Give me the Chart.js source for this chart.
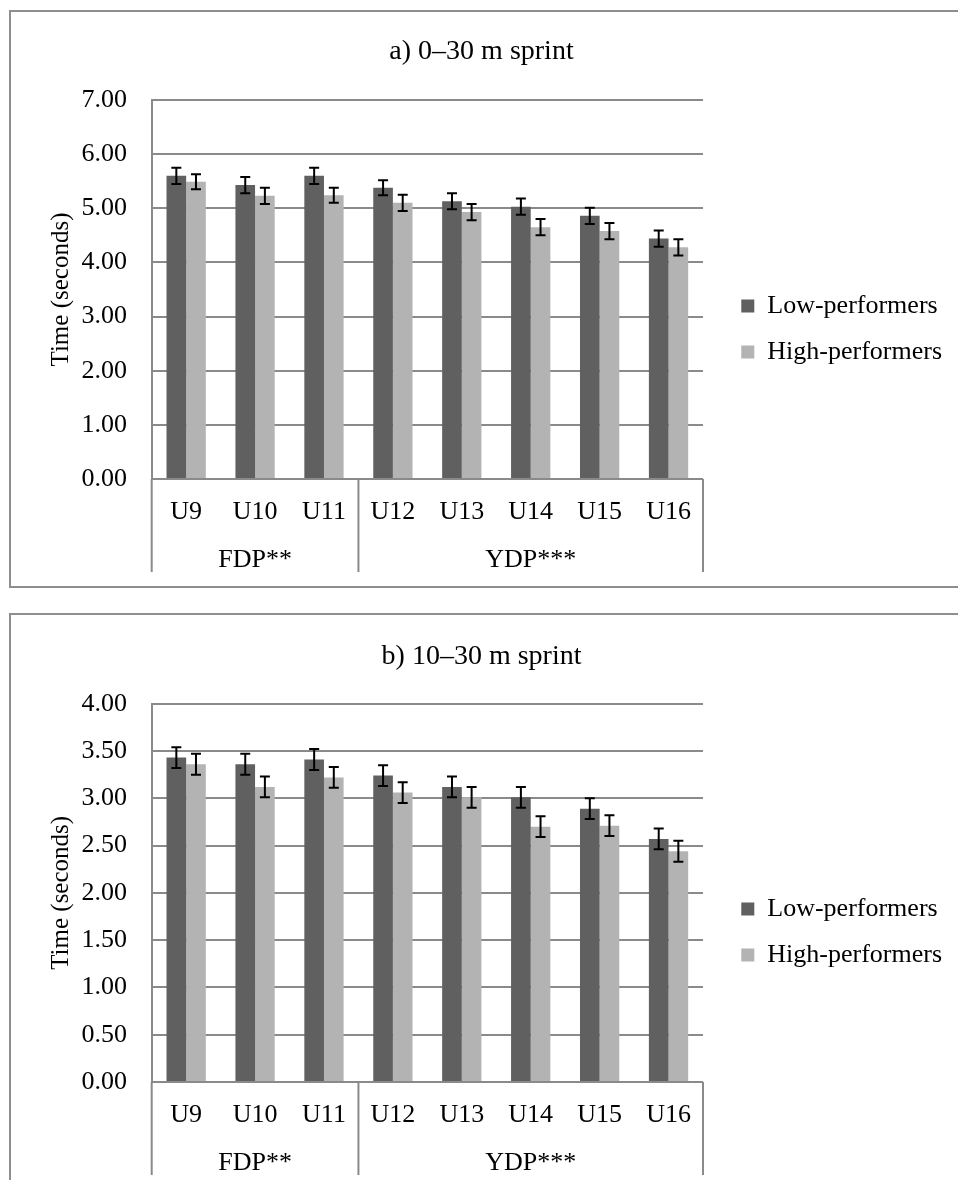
<!DOCTYPE html>
<html>
<head>
<meta charset="utf-8">
<script src="https://cdn.jsdelivr.net/npm/chart.js@4.4.1/dist/chart.umd.min.js"></script>
<style>
html,body{margin:0;padding:0;background:#fff;overflow:hidden;width:958px;height:1180px}
.box{position:absolute;left:9px;width:1000px;border:2px solid #8e8e8e;background:#fff}
.wrap{position:relative;width:941px;height:574px}
</style>
</head>
<body>
<div class="box" style="top:10px"><div class="wrap"><canvas id="chart-a"></canvas></div></div>
<div class="box" style="top:613px"><div class="wrap"><canvas id="chart-b"></canvas></div></div>
<script>
// donnees -----------------------------------------------------------------
const categories = ['U9','U10','U11','U12','U13','U14','U15','U16'];
const groupLabels = ['', 'FDP**', '', '', '', 'YDP***', '', ''];
const groupBreaks = [3]; // YDP commence a U12
const seriesNames = ['Low-performers', 'High-performers'];

const sprint030Low      = [5.60, 5.43, 5.60, 5.38, 5.13, 5.03, 4.86, 4.44];
const sprint030LowErr   = [0.15, 0.15, 0.15, 0.14, 0.15, 0.15, 0.15, 0.15];
const sprint030High     = [5.49, 5.23, 5.24, 5.10, 4.93, 4.65, 4.58, 4.28];
const sprint030HighErr  = [0.14, 0.15, 0.14, 0.15, 0.15, 0.15, 0.15, 0.15];

const sprint1030Low     = [3.43, 3.36, 3.41, 3.24, 3.12, 3.01, 2.89, 2.57];
const sprint1030LowErr  = [0.11, 0.11, 0.11, 0.11, 0.11, 0.11, 0.11, 0.11];
const sprint1030High    = [3.36, 3.12, 3.22, 3.06, 3.01, 2.70, 2.71, 2.44];
const sprint1030HighErr = [0.11, 0.11, 0.11, 0.11, 0.11, 0.11, 0.11, 0.11];

const FONT = "'Liberation Serif', 'Times New Roman', serif";
const GRID = '#8a8a8a';
const DARK = '#606060', LIGHT = '#b3b3b3';

Chart.defaults.font.family = FONT;
Chart.defaults.color = '#000';

// barres d'erreur ----------------------------------------------------------
const errorBars = {
  id: 'errorBars',
  afterDatasetsDraw(chart){
    const ctx = chart.ctx, y = chart.scales.y;
    ctx.save();
    ctx.strokeStyle = '#000'; ctx.lineWidth = 2;
    chart.data.datasets.forEach((ds, di) => {
      chart.getDatasetMeta(di).data.forEach((bar, i) => {
        const top = y.getPixelForValue(ds.data[i] + ds.err[i]);
        const bot = y.getPixelForValue(ds.data[i] - ds.err[i]);
        ctx.beginPath();
        ctx.moveTo(bar.x, top); ctx.lineTo(bar.x, bot);
        ctx.moveTo(bar.x - 5, top); ctx.lineTo(bar.x + 5, top);
        ctx.moveTo(bar.x - 5, bot); ctx.lineTo(bar.x + 5, bot);
        ctx.stroke();
      });
    });
    ctx.restore();
  }
};

// traits verticaux entre groupes FDP / YDP ---------------------------------
const groupLines = {
  id: 'groupLines',
  afterDraw(chart){
    const x = chart.scales.x, area = chart.chartArea, ctx = chart.ctx;
    const edges = [x.left, ...groupBreaks.map(i => (x.getPixelForValue(i - 1) + x.getPixelForValue(i)) / 2), x.right];
    ctx.save();
    ctx.strokeStyle = GRID; ctx.lineWidth = 2;
    edges.forEach(px => {
      ctx.beginPath();
      ctx.moveTo(px, area.bottom); ctx.lineTo(px, area.bottom + 93);
      ctx.stroke();
    });
    ctx.restore();
  }
};

function makeChart(id, title, low, lowErr, high, highErr, yMax, yStep, titlePad){
  return new Chart(document.getElementById(id), {
    type: 'bar',
    data: {
      labels: categories,
      datasets: [
        { label: seriesNames[0], data: low, err: lowErr, backgroundColor: DARK, borderWidth: 0 },
        { label: seriesNames[1], data: high, err: highErr, backgroundColor: LIGHT, borderWidth: 0 }
      ]
    },
    options: {
      responsive: true, maintainAspectRatio: false, animation: false,
      datasets: { bar: { categoryPercentage: 0.57, barPercentage: 1 } },
      layout: { padding: 0 },
      plugins: {
        tooltip: { enabled: false },
        title: { display: true, text: title, color: '#000',
          font: { size: 28, weight: 'normal' }, padding: titlePad },
        legend: {
          position: 'right', align: 'start', maxWidth: 260,
          title: { display: true, text: '', font: { size: 10 }, padding: { top: 249, bottom: 0 } },
          labels: { boxWidth: 13, boxHeight: 13, padding: 20, color: '#000', font: { size: 26 } }
        }
      },
      scales: {
        x: {
          offset: true, weight: 0,
          grid: { display: false }, border: { display: false },
          ticks: { autoSkip: false, maxRotation: 0, padding: 10, color: '#000', font: { size: 26 } },
          afterFit: s => { s.height = 48; }
        },
        x2: {
          type: 'category', labels: groupLabels, position: 'bottom', offset: true, weight: 1,
          grid: { display: false }, border: { display: false },
          ticks: { autoSkip: false, maxRotation: 0, padding: 9.6, color: '#000', font: { size: 26 } },
          afterFit: s => { s.height = 59; }
        },
        y: {
          min: 0, max: yMax,
          grid: { color: GRID, lineWidth: 2, drawTicks: false },
          border: { display: true, color: GRID, width: 2 },
          ticks: { stepSize: yStep, padding: 24.7, color: '#000', font: { size: 26 },
            callback: v => v.toFixed(2) },
          title: { display: true, text: 'Time (seconds)', color: '#000',
            font: { size: 25 }, padding: { top: 35.6, bottom: 0 } },
          afterFit: s => { s.width = 140.7; }
        },
        yr: {
          position: 'right', display: true,
          grid: { display: false }, border: { display: false }, ticks: { display: false },
          afterFit: s => { s.width = 18.3; }
        }
      }
    },
    plugins: [errorBars, groupLines]
  });
}

makeChart('chart-a', 'a) 0–30 m sprint', sprint030Low, sprint030LowErr, sprint030High, sprint030HighErr,
  7, 1, { top: 22.7, bottom: 31.7 });
makeChart('chart-b', 'b) 10–30 m sprint', sprint1030Low, sprint1030LowErr, sprint1030High, sprint1030HighErr,
  4, 0.5, { top: 24.7, bottom: 30.4 });
</script>
</body>
</html>
